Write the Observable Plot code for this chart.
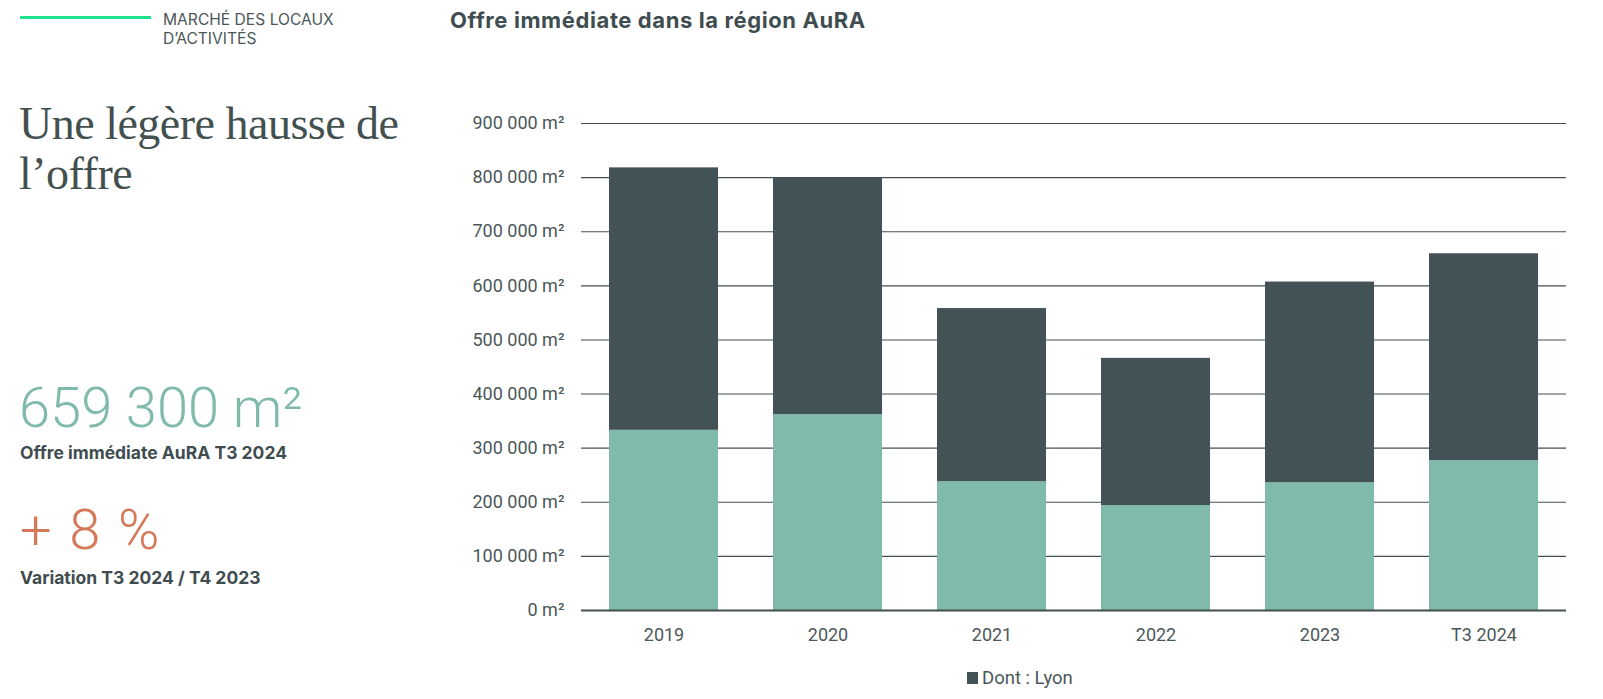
<!DOCTYPE html>
<html lang="fr">
<head>
<meta charset="utf-8">
<script src="https://cdn.jsdelivr.net/npm/d3@7"></script>
<script src="https://cdn.jsdelivr.net/npm/@observablehq/plot@0.6"></script>
<style>
  html, body { margin: 0; padding: 0; background: #fff; }
  body { width: 1603px; height: 699px; position: relative; overflow: hidden; font-family: Roboto, "Noto Sans", sans-serif; color: #3f4d50; }
  .abs { position: absolute; white-space: nowrap; }
</style>
</head>
<body>
<div class="abs" style="left:20px;top:16px;width:131px;height:3px;background:#1fe28c"></div>
<div class="abs" style="left:163px;top:10px;font-family:Inter,sans-serif;font-size:15.6px;line-height:19px;color:#4b5759">MARCHÉ DES LOCAUX<br>D’ACTIVITÉS</div>
<div class="abs" style="left:450px;top:9px;font-family:Inter,sans-serif;font-size:22px;line-height:22px;letter-spacing:0.6px;font-weight:700;color:#3f4d50">Offre immédiate dans la région AuRA</div>
<div class="abs" style="left:19px;top:99px;font-family:'Liberation Serif',serif;font-size:46px;line-height:50px;letter-spacing:-0.5px;color:#42504f">Une légère hausse de<br>l’offre</div>
<div class="abs" style="left:19px;top:380px;font-family:Roboto,sans-serif;font-weight:300;font-size:56px;line-height:56px;color:#7fbaab">659 300 m²</div>
<div class="abs" style="left:20px;top:444px;font-family:Inter,sans-serif;font-weight:700;font-size:17.5px;line-height:17.5px;color:#3f4d50">Offre immédiate AuRA T3 2024</div>
<div class="abs" style="left:20px;top:502px;font-family:Roboto,sans-serif;font-weight:300;font-size:56px;line-height:56px;word-spacing:4px;color:#d5795b">+ 8 %</div>
<div class="abs" style="left:20px;top:569px;font-family:Inter,sans-serif;font-weight:700;font-size:17.5px;line-height:17.5px;color:#3f4d50">Variation T3 2024 / T4 2023</div>
<div id="chart" class="abs" style="left:440px;top:100px"></div>
<div class="abs" style="left:967px;top:666px;font-size:18.5px;line-height:24px;color:#4b5759;display:flex;align-items:center">
  <span style="display:inline-block;width:11px;height:12px;background:#435256;margin-right:4px"></span><span>Dont : Lyon</span>
</div>
<script>
const categories = ["2019", "2020", "2021", "2022", "2023", "T3 2024"];
const resteValues = [333000, 362000, 238000, 194000, 236000, 277000];
const lyonValues = [485000, 438000, 320000, 272000, 371000, 382300];
const yTicks = [0, 100000, 200000, 300000, 400000, 500000, 600000, 700000, 800000, 900000];
const seriesNames = ["Reste", "Dont : Lyon"];
const seriesColors = ["#7fbaab", "#435256"];

const rows = [];
categories.forEach((c, i) => {
  rows.push({cat: c, serie: seriesNames[0], v: resteValues[i]});
  rows.push({cat: c, serie: seriesNames[1], v: lyonValues[i]});
});

const fmt = d => d3.format(",")(d).replace(/,/g, " ") + " m²";

const chart = Plot.plot({
  width: 1163,
  height: 560,
  marginLeft: 141,
  marginRight: 37,
  marginTop: 23,
  marginBottom: 50,
  style: {fontFamily: "Roboto, sans-serif", fontSize: "17px", color: "#4b5759", background: "transparent"},
  x: {domain: categories, paddingInner: 0.336, paddingOuter: 0.168, label: null},
  y: {domain: [0, 900000], label: null},
  color: {domain: seriesNames, range: seriesColors},
  marks: [
    Plot.ruleY(yTicks.filter(d => d > 0), {stroke: "#42504f", strokeWidth: 1.1}),
    Plot.barY(rows, {x: "cat", y: "v", fill: "serie", order: seriesNames}),
    Plot.ruleY([0], {stroke: "#42504f", strokeWidth: 2}),
    Plot.axisY(yTicks, {tickSize: 0, tickPadding: 17, tickFormat: fmt, fontSize: 18, style: "letter-spacing:0.4px"}),
    Plot.axisX({tickSize: 0, tickPadding: 18, fontSize: 18})
  ]
});
document.getElementById("chart").appendChild(chart);
</script>
</body>
</html>
